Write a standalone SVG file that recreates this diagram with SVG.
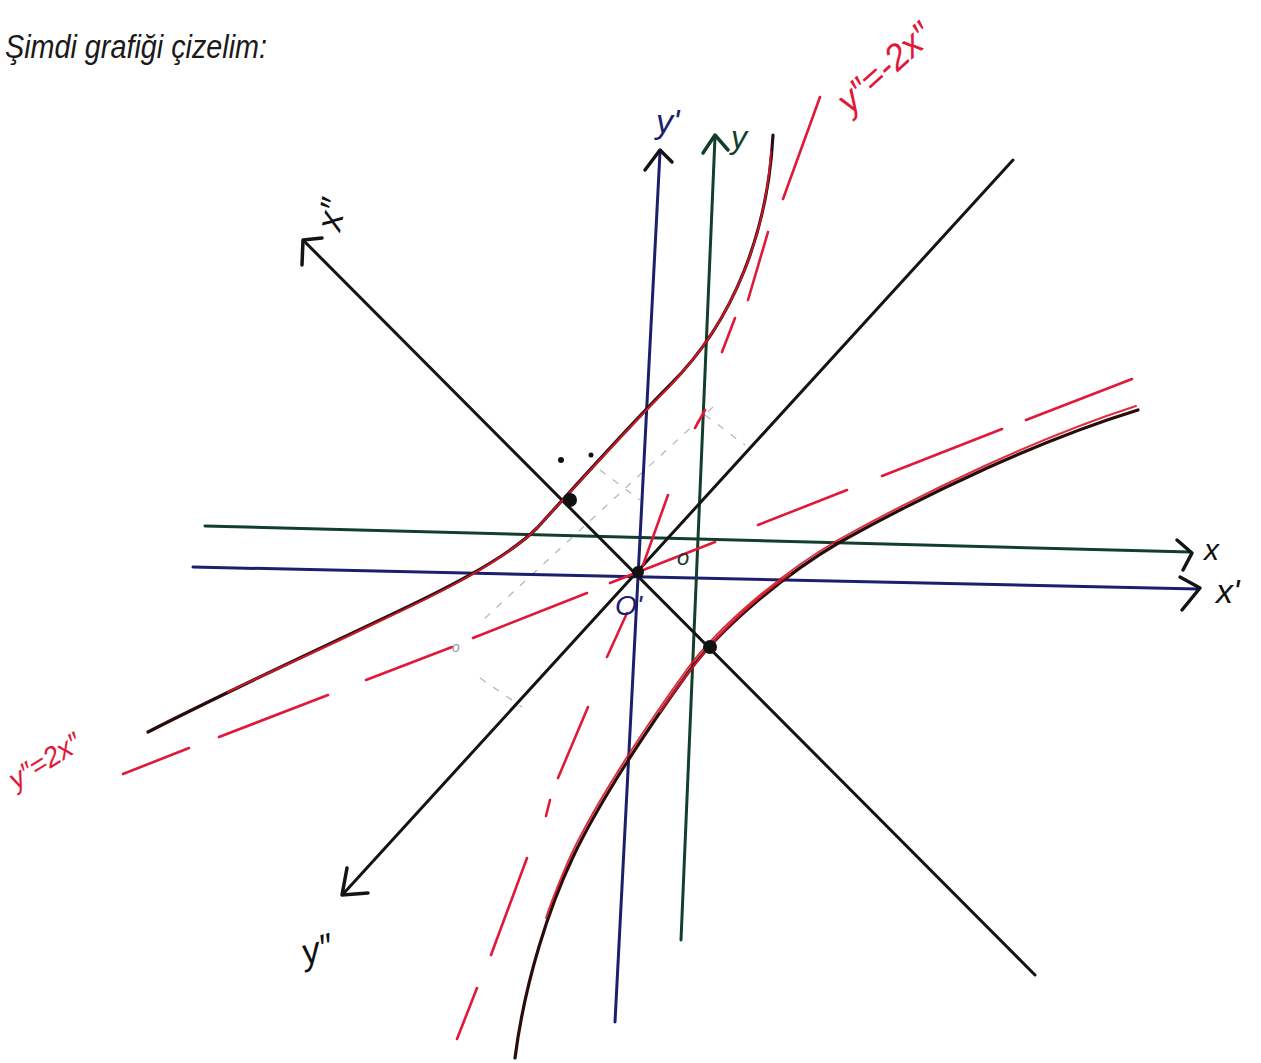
<svg xmlns="http://www.w3.org/2000/svg" width="1261" height="1063" viewBox="0 0 1261 1063">
<defs>
<style>
.ax{fill:none;stroke-width:3;stroke-linecap:round;stroke-linejoin:round}
.blue{stroke:#1c1f6b}
.green{stroke:#123f2a}
.blk{stroke:#141414}
.head{fill:none;stroke-width:3.5;stroke-linecap:round;stroke-linejoin:round}
.asy{stroke:#e0183a;stroke-width:2.6;stroke-linecap:round;fill:none}
.cb{fill:none;stroke:#2a0c0c;stroke-width:3.2;stroke-linecap:round;stroke-linejoin:round}
.cr{fill:none;stroke:#d81a2c;stroke-width:2;stroke-linecap:round;stroke-linejoin:round;opacity:0.9}
.faint{fill:none;stroke:#9a9a9a;stroke-width:1.3;stroke-dasharray:7 9;opacity:0.7}
.hand{font-family:"Liberation Sans","DejaVu Sans",sans-serif;font-style:italic}
</style>
</defs>
<rect width="1261" height="1063" fill="#ffffff"/>

<text class="hand" x="5" y="58" font-size="34" fill="#1a1a1a" textLength="262" lengthAdjust="spacingAndGlyphs">Şimdi grafiği çizelim:</text>

<g id="construction">
<path class="faint" d="M713,407 L483,620"/>
<path class="faint" d="M480,678 L522,707"/>
<path class="faint" d="M600,470 L640,500"/>
<path class="faint" d="M705,415 L745,445"/>
</g>

<g id="connectors">
<g id="axis-x-prime">
<path class="ax blue" d="M193,567 L1198,589"/>
<path class="head blk" d="M1180,577 L1200,588 L1182,610"/>
</g>
<g id="axis-x">
<path class="ax green" d="M205,526 L1190,552"/>
<path class="head blk" d="M1177,540 L1192,553 L1183,570"/>
</g>
<g id="axis-y-prime">
<path class="ax blue" d="M615,1022 L660,152"/>
<path class="head blk" d="M645,170 L660,150 L672,162"/>
</g>
<g id="axis-y">
<path class="ax green" d="M681,940 L715,137"/>
<path class="head green" d="M703,153 L715,135 L728,150"/>
</g>
<g id="axis-x-dblprime">
<path class="ax blk" d="M1035,975 L305,242"/>
<path class="head blk" d="M302,265 L303,240 L322,238"/>
</g>
<g id="axis-y-dblprime">
<path class="ax blk" d="M1013,160 L344,893"/>
<path class="head blk" d="M347,868 L342,895 L368,893"/>
</g>
<g id="asymptote-steep">
<path class="asy" d="M820,97 L783,199 M768,232 L748,300 M735,318 L722,352 M705,410 L695,428 M668,495 L643,565 M627,613 L607,657 M588,707 L558,778 M550,800 L546,816 M527,858 L491,955 M477,988 L457,1039"/>
</g>
<g id="asymptote-shallow">
<path class="asy" d="M123,774 L189,748 M219,737 L328,695 M366,680 L452,647 M473,638 L587,593 M610,583 L715,542 M758,525 L847,490 M882,476 L1002,429 M1026,420 L1132,379"/>
</g>
</g>

<g id="branch-upper">
<path class="cb" d="M773,135 C768,230 735,320 670,385 C630,425 590,470 537,528 C505,560 440,592 380,620 C300,658 220,695 148,732"/>
<path class="cr" d="M771,152 C765,240 732,322 668,388 C628,428 588,473 535,530 C502,562 438,594 378,622 C320,650 270,672 228,692"/>
</g>

<g id="branch-lower">
<path class="cb" d="M1138,410 C1040,440 930,492 840,542 C780,577 720,630 690,670 C650,725 600,800 573,857 C550,905 525,980 515,1058"/>
<path class="cr" d="M1136,406 C1040,437 930,489 838,540 C778,575 718,628 688,668 C648,723 598,798 571,855 C560,880 552,900 546,918"/>
<path class="cr" d="M790,574 C760,595 730,622 705,652 C690,670 675,690 660,712"/>
</g>

<g id="points">
<circle cx="638" cy="572" r="6" fill="#111"/>
<circle cx="570" cy="500" r="7" fill="#111"/>
<circle cx="710" cy="647" r="7" fill="#111"/>
<circle cx="561" cy="460" r="3" fill="#111"/>
<circle cx="591" cy="455" r="2.5" fill="#111"/>
</g>

<g id="labels">
<text class="hand" x="1216" y="603" font-size="34" fill="#111">x'</text>
<text class="hand" x="1204" y="560" font-size="30" fill="#111">x</text>
<text class="hand" x="656" y="133" font-size="34" fill="#1c1f6b">y'</text>
<text class="hand" x="731" y="148" font-size="32" fill="#123f2a">y</text>
<text class="hand" font-size="36" fill="#111" transform="translate(340,232) rotate(-78)">x″</text>
<text class="hand" font-size="36" fill="#111" transform="translate(305,965) rotate(-15)">y″</text>
<text class="hand" x="615" y="615" font-size="28" fill="#1c1f6b">O'</text>
<text class="hand" x="677" y="565" font-size="22" fill="#123f2a">o</text>
<text class="hand" x="452" y="652" font-size="14" fill="#999">o</text>
<text class="hand" font-size="36" fill="#e0183a" transform="translate(850,115) rotate(-42)">y″=-2x″</text>
<text class="hand" font-size="28" fill="#e0183a" transform="translate(16,790) rotate(-32)">y″=2x″</text>
</g>
</svg>
